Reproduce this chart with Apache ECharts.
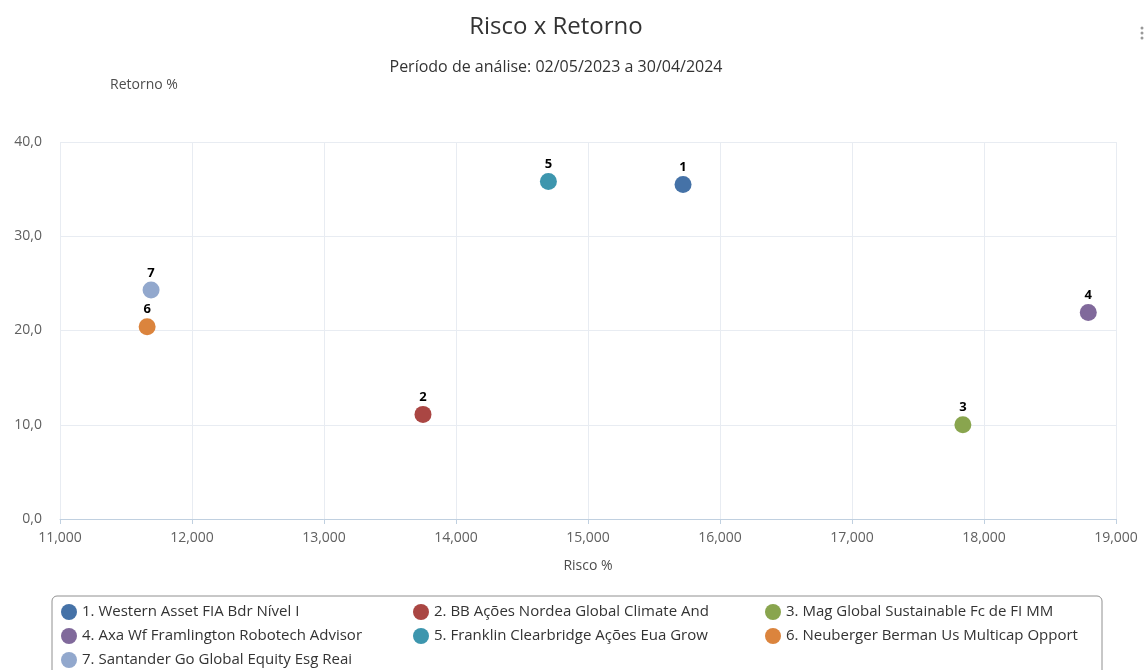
<!DOCTYPE html>
<html>
<head>
<meta charset="utf-8">
<title>Risco x Retorno</title>
<script src="https://cdn.jsdelivr.net/npm/echarts@6/dist/echarts.min.js"></script>
<style>
  html, body { margin: 0; padding: 0; background: #fff; }
  #chart { width: 1144px; height: 670px; }
</style>
</head>
<body>
<div id="chart"></div>
<script>
// fund names (legend) and point values
const fundNames = [
  '1. Western Asset FIA Bdr Nível I',
  '2. BB Ações Nordea Global Climate And',
  '3. Mag Global Sustainable Fc de FI MM',
  '4. Axa Wf Framlington Robotech Advisor',
  '5. Franklin Clearbridge Ações Eua Grow',
  '6. Neuberger Berman Us Multicap Opport',
  '7. Santander Go Global Equity Esg Reai'
]
const pointLabels = ['1', '2', '3', '4', '5', '6', '7']
const risco = [15.72, 13.75, 17.84, 18.79, 14.70, 11.66, 11.69]
const retorno = [35.5, 11.1, 10.0, 21.9, 35.8, 20.4, 24.3]
const colors = ['#4572A7', '#AA4643', '#89A54E', '#80699B', '#3D96AE', '#DB843D', '#92A8CD']

const FONT = '"Open Sans", Lato, sans-serif'
const chart = echarts.init(document.getElementById('chart'))

const fmtThousand = v => Math.round(v * 1000).toLocaleString('en-US')
const fmtComma = v => v.toFixed(1).replace('.', ',')

chart.setOption({
  animation: false,
  textStyle: { fontFamily: FONT },
  title: [
    {
      text: 'Risco x Retorno', left: 551, top: 10, textAlign: 'center',
      textStyle: { fontSize: 24, fontWeight: 'normal', color: '#333', fontFamily: FONT }
    },
    {
      text: 'Período de análise: 02/05/2023 a 30/04/2024', left: 551, top: 54, textAlign: 'center',
      textStyle: { fontSize: 16, fontWeight: 'normal', color: '#333', fontFamily: FONT }
    }
  ],
  graphic: [
    { type: 'circle', shape: { cx: 1142, cy: 28, r: 1.5 }, style: { fill: '#999' } },
    { type: 'circle', shape: { cx: 1142, cy: 33, r: 1.5 }, style: { fill: '#999' } },
    { type: 'circle', shape: { cx: 1142, cy: 38, r: 1.5 }, style: { fill: '#999' } }
  ],
  grid: { left: 60, right: 28, top: 142, bottom: 151 },
  legend: {
    left: 52, top: 596, width: 1060,
    orient: 'horizontal',
    padding: [8, 9, 8, 9],
    itemGap: 8, itemWidth: 16, itemHeight: 16,
    icon: 'circle',
    borderColor: '#909090', borderWidth: 1, borderRadius: 5,
    data: fundNames.map((name, i) => ({
      name: name,
      textStyle: { width: i % 3 === 2 ? 307 : 323 }
    })),
    textStyle: { fontSize: 15, color: '#333', width: 323, lineHeight: 16, fontFamily: FONT }
  },
  xAxis: {
    type: 'value', min: 11, max: 19, interval: 1,
    name: 'Risco %', nameLocation: 'middle', nameGap: 40,
    nameTextStyle: { fontSize: 14, color: '#4d4d4d' },
    axisLine: { show: true, lineStyle: { color: '#C0D0E0' } },
    axisTick: { show: true, length: 5, lineStyle: { color: '#C0D0E0' } },
    axisLabel: { fontSize: 14, color: '#606060', margin: 12, formatter: fmtThousand },
    splitLine: { show: true, lineStyle: { color: '#e8ecf2', width: 1 } }
  },
  yAxis: {
    type: 'value', min: 0, max: 40, interval: 10,
    name: 'Retorno %', nameLocation: 'end', nameGap: 50,
    nameTextStyle: { fontSize: 14, color: '#4d4d4d', align: 'left', padding: [0, 0, 0, 50] },
    axisLine: { show: false },
    axisTick: { show: false },
    axisLabel: { fontSize: 14, color: '#606060', margin: 18, formatter: fmtComma },
    splitLine: { show: true, lineStyle: { color: '#e8ecf2', width: 1 } }
  },
  series: fundNames.map((name, i) => ({
    name: name,
    type: 'scatter',
    symbol: 'circle',
    symbolSize: 17,
    itemStyle: { color: colors[i], opacity: 1 },
    label: {
      show: true, position: 'top', distance: 2,
      formatter: pointLabels[i],
      fontSize: 13, fontWeight: 'bold', color: '#000'
    },
    data: [[risco[i], retorno[i]]]
  }))
})
</script>
</body>
</html>
